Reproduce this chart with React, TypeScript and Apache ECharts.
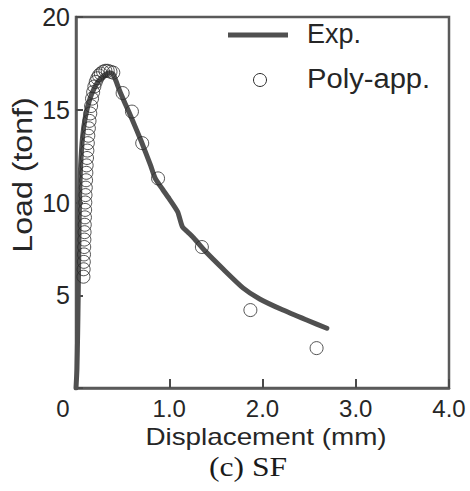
import React, { useEffect, useRef } from "react";
import * as echarts from "echarts";

// Experimental curve (displacement mm, load tonf)
const expX = [0, 0.01, 0.018, 0.024, 0.029, 0.034, 0.04, 0.05, 0.07, 0.1, 0.15, 0.2, 0.25, 0.3, 0.36, 0.4, 0.47, 0.53, 0.6, 0.7, 0.8, 0.85, 0.93, 1.0, 1.09, 1.14, 1.2, 1.26, 1.4, 1.58, 1.79, 1.97, 2.22, 2.48, 2.69];
const expY = [0, 1.0, 3.0, 5.0, 7.0, 9.0, 10.5, 12.0, 13.5, 14.6, 15.6, 16.2, 16.6, 16.85, 17.0, 16.9, 16.0, 15.3, 14.5, 13.3, 12.0, 11.3, 10.7, 10.2, 9.5, 8.7, 8.4, 8.1, 7.3, 6.4, 5.4, 4.8, 4.2, 3.65, 3.22];

// Polynomial approximation points
const polyX = [0.08, 0.082, 0.084, 0.086, 0.088, 0.09, 0.092, 0.094, 0.096, 0.098, 0.1, 0.102, 0.105, 0.108, 0.111, 0.114, 0.118, 0.122, 0.127, 0.132, 0.138, 0.145, 0.153, 0.162, 0.172, 0.184, 0.197, 0.212, 0.228, 0.246, 0.266, 0.29, 0.315, 0.34, 0.37, 0.4, 0.5, 0.6, 0.71, 0.88, 1.35, 1.87, 2.58];
const polyY = [6.0, 6.4, 6.8, 7.2, 7.6, 8.0, 8.4, 8.8, 9.2, 9.6, 10.0, 10.4, 10.8, 11.2, 11.6, 12.0, 12.4, 12.8, 13.2, 13.6, 14.0, 14.4, 14.8, 15.2, 15.6, 15.95, 16.25, 16.5, 16.7, 16.85, 16.95, 17.05, 17.1, 17.1, 17.05, 17.0, 15.9, 14.9, 13.2, 11.3, 7.6, 4.2, 2.15];

const xTickLabels = ["0", "1.0", "2.0", "3.0", "4.0"];
const yTickLabels = ["", "5", "10", "15", "20"];

const TEXT = "#262626";
const FONT = "'Liberation Sans', Arial, sans-serif";

export default function App() {
  const ref = useRef<HTMLDivElement>(null);
  useEffect(() => {
    if (!ref.current) return;
    const chart = echarts.init(ref.current, null, { renderer: "svg" });
    const expData = expX.map((x, i) => [x, expY[i]]);
    const polyData = polyX.map((x, i) => [x, polyY[i]]);
    chart.setOption({
      animation: false,
      backgroundColor: "#ffffff",
      textStyle: { fontFamily: FONT },
      grid: {
        left: 76,
        right: 21,
        top: 17,
        bottom: 103,
        show: true,
        borderColor: "#5a5a5a",
        borderWidth: 2.5,
        backgroundColor: "transparent",
      },
      xAxis: {
        type: "value",
        min: 0,
        max: 4,
        interval: 1,
        splitLine: { show: false },
        axisLine: { show: true, lineStyle: { color: "#5a5a5a", width: 2.5 } },
        axisTick: { show: true, inside: true, length: 9, lineStyle: { color: "#4a4a4a", width: 2 } },
        axisLabel: {
          margin: 8,
          color: TEXT,
          fontSize: 24,
          fontFamily: FONT,
          formatter: (v: number) => {
            const i = Math.round(v);
            if (i === 0) return "{z|" + xTickLabels[0] + "}";
            return xTickLabels[i] ?? "";
          },
          rich: {
            z: { fontSize: 24, fontFamily: FONT, color: TEXT, padding: [0, 26, 0, 0] },
          },
        },
      },
      yAxis: {
        type: "value",
        min: 0,
        max: 20,
        interval: 5,
        splitLine: { show: false },
        axisLine: { show: true, lineStyle: { color: "#5a5a5a", width: 2.5 } },
        axisTick: { show: true, inside: true, length: 7, lineStyle: { color: "#4a4a4a", width: 2 } },
        axisLabel: {
          margin: 6,
          color: TEXT,
          fontSize: 25,
          fontFamily: FONT,
          formatter: (v: number) => yTickLabels[Math.round(v / 5)] ?? "",
        },
      },
      series: [
        {
          name: "Exp.",
          type: "line",
          data: expData,
          showSymbol: false,
          symbol: "none",
          smooth: 0.2,
          lineStyle: { color: "#505050", width: 5, cap: "round", join: "round" },
          z: 2,
        },
        {
          name: "Poly-app.",
          type: "scatter",
          data: polyData,
          symbol: "circle",
          symbolSize: 13,
          itemStyle: { color: "rgba(0,0,0,0)", borderColor: "#2a2a2a", borderWidth: 1 },
          z: 3,
        },
      ],
      graphic: [
        { type: "line", shape: { x1: 228, y1: 35, x2: 288, y2: 35 }, style: { stroke: "#505050", lineWidth: 5 } },
        { type: "text", x: 307, y: 34, style: { text: "Exp.", fill: TEXT, font: `27px ${FONT}`, textAlign: "left", textVerticalAlign: "middle" } },
        { type: "circle", shape: { cx: 260, cy: 80, r: 6.5 }, style: { fill: "none", stroke: "#2a2a2a", lineWidth: 1 } },
        { type: "text", x: 307, y: 79, scaleX: 1.08, style: { text: "Poly-app.", fill: TEXT, font: `27px ${FONT}`, textAlign: "left", textVerticalAlign: "middle" } },
        { type: "text", x: 266, y: 437, scaleX: 1.16, style: { text: "Displacement (mm)", fill: TEXT, font: `24px ${FONT}`, textAlign: "center", textVerticalAlign: "middle" } },
        { type: "text", x: 248, y: 467, scaleX: 1.17, style: { text: "(c) SF", fill: "#1a1a1a", font: "27px 'Liberation Serif', 'Times New Roman', serif", textAlign: "center", textVerticalAlign: "middle" } },
        { type: "text", x: 22, y: 175, rotation: Math.PI / 2, scaleX: 1.19, style: { text: "Load (tonf)", fill: TEXT, font: `27px ${FONT}`, textAlign: "center", textVerticalAlign: "middle" } },
      ],
    });
    return () => chart.dispose();
  }, []);
  return <div ref={ref} style={{ position: "fixed", left: 0, top: 0, width: 470, height: 491 }} />;
}
